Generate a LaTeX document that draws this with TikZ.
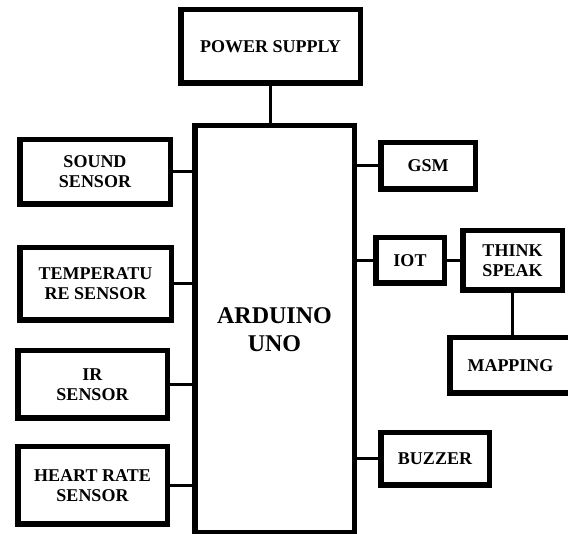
\documentclass[tikz,border=0pt]{standalone}
\usepackage{fontspec}
\setmainfont{Liberation Serif}
\usetikzlibrary{calc}

\begin{document}
\begin{tikzpicture}[x=1pt, y=-1pt,
  blk/.style={draw, rectangle, line width=5.5pt, inner sep=1pt, align=center,
    font=\fontsize{18}{20}\selectfont\bfseries},
  wire/.style={line width=3pt}]
\useasboundingbox (0,0) rectangle (568,534);

% Power supply and controller
\node[blk, minimum width=179.5pt, minimum height=73.5pt] (pwr) at (270.5,46.5) {POWER SUPPLY};
\node[blk, minimum width=159.5pt, minimum height=407.5pt,
  font=\fontsize{24}{28}\selectfont\bfseries] (ard) at (274.5,329.5) {ARDUINO\\UNO};

% Sensors (left)
\node[blk, minimum width=150.5pt, minimum height=64.5pt] (snd) at (95,172) {SOUND\\SENSOR};
\node[blk, minimum width=151.5pt, minimum height=72.5pt] (temp) at (95.5,284) {TEMPERATU\\RE SENSOR};
\node[blk, minimum width=149.5pt, minimum height=67.5pt] (ir) at (92.5,384.5) {IR\\SENSOR};
\node[blk, minimum width=149.5pt, minimum height=77.5pt] (hr) at (92.5,485.5) {HEART RATE\\SENSOR};

% Outputs (right)
\node[blk, minimum width=94.5pt, minimum height=46.5pt] (gsm) at (428,166) {GSM};
\node[blk, minimum width=68.5pt, minimum height=45.5pt] (iot) at (410,260.5) {IOT};
\node[blk, minimum width=99.5pt, minimum height=59.5pt] (tsp) at (512.5,260.5) {THINK\\SPEAK};
\node[blk, minimum width=121.5pt, minimum height=55.5pt] (map) at (510.5,365.5) {MAPPING};
\node[blk, minimum width=108.5pt, minimum height=52.5pt] (buz) at (435,459) {BUZZER};

% Connections
\draw[wire] (pwr.south) -- (pwr.south |- ard.north);
\foreach \s in {snd,temp,ir,hr}
  \draw[wire] (\s.east) -- (\s.east -| ard.west);
\foreach \s in {gsm,iot,buz}
  \draw[wire] (\s.west) -- (\s.west -| ard.east);
\draw[wire] (iot) -- (tsp);
\draw[wire] (tsp.south) -- (tsp.south |- map.north);
\end{tikzpicture}
\end{document}
